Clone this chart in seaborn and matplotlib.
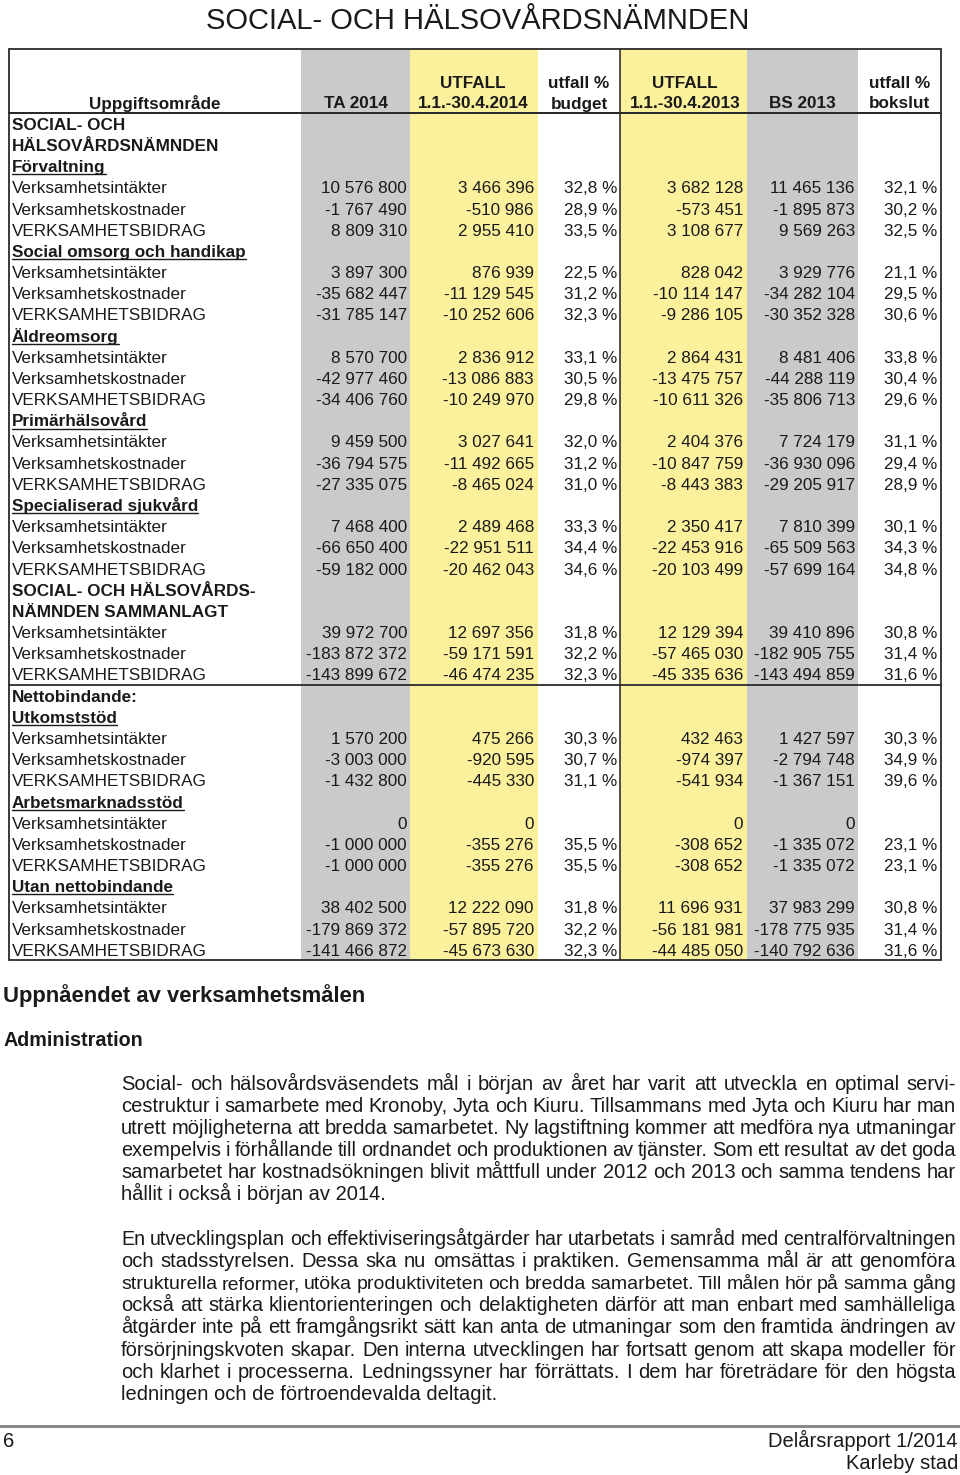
import matplotlib
matplotlib.use("Agg")
import matplotlib.pyplot as plt
from matplotlib.patches import Rectangle
import seaborn as sns

# ---------------- data ----------------
title = "SOCIAL- OCH HÄLSOVÅRDSNÄMNDEN"

col_headers = [
    ("", "Uppgiftsområde"),
    ("", "TA 2014"),
    ("UTFALL", "1.1.-30.4.2014"),
    ("utfall %", "budget"),
    ("UTFALL", "1.1.-30.4.2013"),
    ("", "BS 2013"),
    ("utfall %", "bokslut"),
]

row_labels = [
    "SOCIAL- OCH", "HÄLSOVÅRDSNÄMNDEN", "Förvaltning",
    "Verksamhetsintäkter", "Verksamhetskostnader", "VERKSAMHETSBIDRAG",
    "Social omsorg och handikap",
    "Verksamhetsintäkter", "Verksamhetskostnader", "VERKSAMHETSBIDRAG",
    "Äldreomsorg",
    "Verksamhetsintäkter", "Verksamhetskostnader", "VERKSAMHETSBIDRAG",
    "Primärhälsovård",
    "Verksamhetsintäkter", "Verksamhetskostnader", "VERKSAMHETSBIDRAG",
    "Specialiserad sjukvård",
    "Verksamhetsintäkter", "Verksamhetskostnader", "VERKSAMHETSBIDRAG",
    "SOCIAL- OCH HÄLSOVÅRDS-", "NÄMNDEN SAMMANLAGT",
    "Verksamhetsintäkter", "Verksamhetskostnader", "VERKSAMHETSBIDRAG",
    "Nettobindande:", "Utkomststöd",
    "Verksamhetsintäkter", "Verksamhetskostnader", "VERKSAMHETSBIDRAG",
    "Arbetsmarknadsstöd",
    "Verksamhetsintäkter", "Verksamhetskostnader", "VERKSAMHETSBIDRAG",
    "Utan nettobindande",
    "Verksamhetsintäkter", "Verksamhetskostnader", "VERKSAMHETSBIDRAG",
]
# b = bold, u = bold underlined, n = normal
row_styles = [
    "b", "b", "u", "n", "n", "n",
    "u", "n", "n", "n",
    "u", "n", "n", "n",
    "u", "n", "n", "n",
    "u", "n", "n", "n",
    "b", "b", "n", "n", "n",
    "b", "u", "n", "n", "n",
    "u", "n", "n", "n",
    "u", "n", "n", "n",
]

N = None
ta_2014 = [N, N, N, 10576800, -1767490, 8809310,
           N, 3897300, -35682447, -31785147,
           N, 8570700, -42977460, -34406760,
           N, 9459500, -36794575, -27335075,
           N, 7468400, -66650400, -59182000,
           N, N, 39972700, -183872372, -143899672,
           N, N, 1570200, -3003000, -1432800,
           N, 0, -1000000, -1000000,
           N, 38402500, -179869372, -141466872]
utfall_2014 = [N, N, N, 3466396, -510986, 2955410,
               N, 876939, -11129545, -10252606,
               N, 2836912, -13086883, -10249970,
               N, 3027641, -11492665, -8465024,
               N, 2489468, -22951511, -20462043,
               N, N, 12697356, -59171591, -46474235,
               N, N, 475266, -920595, -445330,
               N, 0, -355276, -355276,
               N, 12222090, -57895720, -45673630]
pct_budget = [N, N, N, 32.8, 28.9, 33.5,
              N, 22.5, 31.2, 32.3,
              N, 33.1, 30.5, 29.8,
              N, 32.0, 31.2, 31.0,
              N, 33.3, 34.4, 34.6,
              N, N, 31.8, 32.2, 32.3,
              N, N, 30.3, 30.7, 31.1,
              N, N, 35.5, 35.5,
              N, 31.8, 32.2, 32.3]
utfall_2013 = [N, N, N, 3682128, -573451, 3108677,
               N, 828042, -10114147, -9286105,
               N, 2864431, -13475757, -10611326,
               N, 2404376, -10847759, -8443383,
               N, 2350417, -22453916, -20103499,
               N, N, 12129394, -57465030, -45335636,
               N, N, 432463, -974397, -541934,
               N, 0, -308652, -308652,
               N, 11696931, -56181981, -44485050]
bs_2013 = [N, N, N, 11465136, -1895873, 9569263,
           N, 3929776, -34282104, -30352328,
           N, 8481406, -44288119, -35806713,
           N, 7724179, -36930096, -29205917,
           N, 7810399, -65509563, -57699164,
           N, N, 39410896, -182905755, -143494859,
           N, N, 1427597, -2794748, -1367151,
           N, 0, -1335072, -1335072,
           N, 37983299, -178775935, -140792636]
pct_bokslut = [N, N, N, 32.1, 30.2, 32.5,
               N, 21.1, 29.5, 30.6,
               N, 33.8, 30.4, 29.6,
               N, 31.1, 29.4, 28.9,
               N, 30.1, 34.3, 34.8,
               N, N, 30.8, 31.4, 31.6,
               N, N, 30.3, 34.9, 39.6,
               N, N, 23.1, 23.1,
               N, 30.8, 31.4, 31.6]

heading1 = "Uppnåendet av verksamhetsmålen"
heading2 = "Administration"
paragraph1 = [
    "Social- och hälsovårdsväsendets mål i början av året har varit att utveckla en optimal servi-",
    "cestruktur i samarbete med Kronoby, Jyta och Kiuru. Tillsammans med Jyta och Kiuru har man",
    "utrett möjligheterna att bredda samarbetet. Ny lagstiftning kommer att medföra nya utmaningar",
    "exempelvis i förhållande till ordnandet och produktionen av tjänster. Som ett resultat av det goda",
    "samarbetet har kostnadsökningen blivit måttfull under 2012 och 2013 och samma tendens har",
    "hållit i också i början av 2014.",
]
paragraph2 = [
    "En utvecklingsplan och effektiviseringsåtgärder har utarbetats i samråd med centralförvaltningen",
    "och stadsstyrelsen. Dessa ska nu omsättas i praktiken. Gemensamma mål är att genomföra",
    "strukturella reformer, utöka produktiviteten och bredda samarbetet. Till målen hör på samma gång",
    "också att stärka klientorienteringen och delaktigheten därför att man enbart med samhälleliga",
    "åtgärder inte på ett framgångsrikt sätt kan anta de utmaningar som den framtida ändringen av",
    "försörjningskvoten skapar. Den interna utvecklingen har fortsatt genom att skapa modeller för",
    "och klarhet i processerna. Ledningssyner har förrättats. I dem har företrädare för den högsta",
    "ledningen och de förtroendevalda deltagit.",
]
footer_page = "6"
footer_right = ["Delårsrapport 1/2014", "Karleby stad"]

# ---------------- style ----------------
sns.set_theme(style="white")
FONT = "Liberation Sans"
plt.rcParams["font.family"] = [FONT, "DejaVu Sans"]

GRAY = "#c9cacc"
YELLOW = "#fbf19d"
LINE = "#2a2a2a"
TXT = "#1a1a1a"

W, H = 960, 1475
fig = plt.figure(figsize=(W / 100, H / 100), dpi=100)
ax = fig.add_axes([0, 0, 1, 1])
ax.set_xlim(0, W)
ax.set_ylim(H, 0)
ax.axis("off")
renderer = fig.canvas.get_renderer()


def px(lw):
    return lw * 0.72


def measure(s, size, weight="normal"):
    t = ax.text(0, 0, s, fontsize=size, fontweight=weight)
    w = t.get_window_extent(renderer=renderer).width
    t.remove()
    return w


# ---------------- title ----------------
ax.text(478, 29, title, fontsize=21, ha="center", va="baseline", color=TXT)

# ---------------- table geometry ----------------
tab_left, tab_right = 9, 941
tab_top = 49
head_bottom = 113
row_h = 21.18
n_rows = len(row_labels)
tab_bottom = head_bottom + row_h * n_rows

# column bands
bands = [(301, 410, GRAY), (410, 538, YELLOW), (620, 747, YELLOW), (747, 858, GRAY)]
for x0, x1, c in bands:
    ax.add_patch(Rectangle((x0, tab_top), x1 - x0, tab_bottom - tab_top,
                           facecolor=c, edgecolor="none", zorder=0))

# borders
ax.add_patch(Rectangle((tab_left, tab_top), tab_right - tab_left, tab_bottom - tab_top,
                       facecolor="none", edgecolor=LINE, lw=px(1.8), zorder=3))
ax.plot([tab_left, tab_right], [head_bottom, head_bottom], color=LINE, lw=px(2.0), zorder=3)
ax.plot([620, 620], [tab_top, tab_bottom], color=LINE, lw=px(1.6), zorder=3)
sep_y = head_bottom + row_h * 27
ax.plot([tab_left, tab_right], [sep_y, sep_y], color=LINE, lw=px(1.8), zorder=3)

FS = 12.3
# headers
head_x = [(220, "right"), (388, "right"), (473, "center"), (579, "center"),
          (685, "center"), (802, "center"), (899.5, "center")]
for (l1, l2), (x, ha) in zip(col_headers, head_x):
    if l1:
        ax.text(x, 87.5, l1, fontsize=FS, fontweight="bold", ha=ha, va="baseline", color=TXT)
    ax.text(x, 108.5, l2, fontsize=FS, fontweight="bold", ha=ha, va="baseline", color=TXT)


def fmt_int(v):
    s = f"{abs(v):,}".replace(",", " ")
    return ("-" if v < 0 else "") + s


def fmt_pct(v):
    return f"{v:.1f}".replace(".", ",") + " %"


columns = [(ta_2014, 407, fmt_int), (utfall_2014, 534, fmt_int), (pct_budget, 617, fmt_pct),
           (utfall_2013, 743, fmt_int), (bs_2013, 855, fmt_int), (pct_bokslut, 937, fmt_pct)]

for i, (lab, st) in enumerate(zip(row_labels, row_styles)):
    yc = head_bottom + row_h * (i + 0.5)
    yb = yc + 6.2
    weight = "bold" if st in ("b", "u") else "normal"
    ax.text(12, yb, lab, fontsize=FS, fontweight=weight, ha="left", va="baseline", color=TXT)
    if st == "u":
        w = measure(lab, FS, "bold")
        ax.plot([12, 12 + w], [yb + 2.2, yb + 2.2], color=TXT, lw=px(1.4))
    for vals, xr, f in columns:
        v = vals[i]
        if v is not None:
            ax.text(xr, yb, f(v), fontsize=FS, ha="right", va="baseline", color=TXT)

# ---------------- text below ----------------
ax.text(3, 1002, heading1, fontsize=15.8, fontweight="bold", ha="left", va="baseline", color=TXT)
ax.text(3, 1046, heading2, fontsize=14.2, fontweight="bold", ha="left", va="baseline", color=TXT)

BODY = 14.5
X0, X1 = 121, 956


def draw_para(lines, y0, step):
    for k, line in enumerate(lines):
        y = y0 + k * step
        last = (k == len(lines) - 1)
        if last:
            ax.text(X0, y, line, fontsize=BODY, ha="left", va="baseline", color=TXT)
            continue
        words = line.split(" ")
        size = BODY
        for _ in range(6):
            ws = [measure(w_, size) for w_ in words]
            sp = measure("a a", size) - measure("aa", size)
            gap = (X1 - X0 - sum(ws)) / (len(words) - 1)
            if gap >= 0.8 * sp:
                break
            natural = sum(ws) + 0.85 * sp * (len(words) - 1)
            size = size * (X1 - X0) / natural
        x = X0
        for w_, wd in zip(words, ws):
            ax.text(x, y, w_, fontsize=size, ha="left", va="baseline", color=TXT)
            x += wd + gap


draw_para(paragraph1, 1090, 22.1)
draw_para(paragraph2, 1245, 22.1)

# ---------------- footer ----------------
ax.plot([0, W], [1426, 1426], color="#8a8a8a", lw=px(3))
ax.text(3, 1447, footer_page, fontsize=14.5, ha="left", va="baseline", color=TXT)
ax.text(958, 1447, footer_right[0], fontsize=14.5, ha="right", va="baseline", color=TXT)
ax.text(958, 1469, footer_right[1], fontsize=14.5, ha="right", va="baseline", color=TXT)

fig.savefig("out.png", dpi=100, facecolor="white")
